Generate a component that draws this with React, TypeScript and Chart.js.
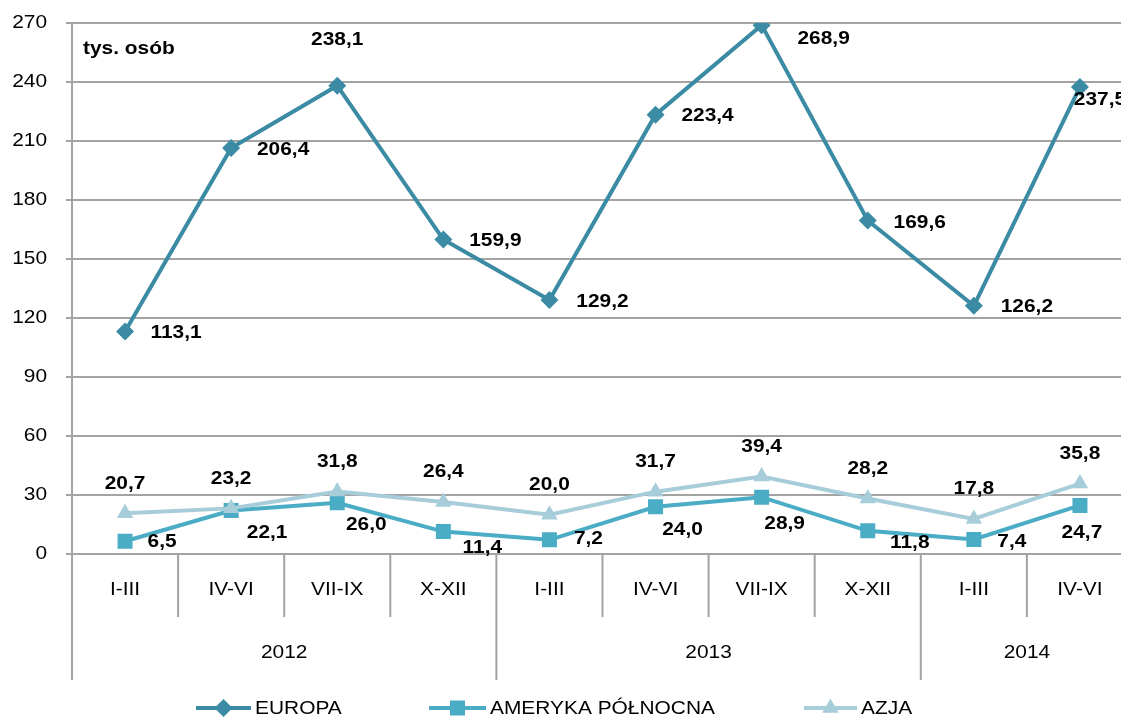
import React, { useEffect, useRef } from "react";
import { Chart, registerables } from "chart.js";

Chart.register(...registerables);

const quarters = ["I-III", "IV-VI", "VII-IX", "X-XII", "I-III", "IV-VI", "VII-IX", "X-XII", "I-III", "IV-VI"];
const yearLabels = ["2012", "2013", "2014"];
const yearSpans = [4, 4, 2];
const yTicks = [0, 30, 60, 90, 120, 150, 180, 210, 240, 270];

const europa = [113.1, 206.4, 238.1, 159.9, 129.2, 223.4, 268.9, 169.6, 126.2, 237.5];
const ameryka = [6.5, 22.1, 26.0, 11.4, 7.2, 24.0, 28.9, 11.8, 7.4, 24.7];
const azja = [20.7, 23.2, 31.8, 26.4, 20.0, 31.7, 39.4, 28.2, 17.8, 35.8];

const seriesNames = ["EUROPA", "AMERYKA PÓŁNOCNA", "AZJA"];
const colors = ["#3A8BA3", "#4BACC6", "#A6CDD9"];

// label offsets (style), relative to point
const europaOff = [[51, 1], [52, 2], [0, -46], [52, 1], [53, 2], [52, 1], [62, 14], [52, 2], [53, 1], [20, 13]];
const amerykaOff = [[37, 1], [36, 22], [29, 22], [39, 16], [39, -1], [27, 23], [23, 27], [42, 12], [38, 2], [2, 27]];
const azjaOff = [[0, -30], [0, -30], [0, -30], [0, -30], [0, -30], [0, -30], [0, -30], [0, -30], [0, -30], [0, -30]];

const SX = 1.1;
const FS = 19;
const FONT = '"Liberation Sans", Arial, sans-serif';
const GRID = "#A3A3A3";
const CW = 1133;

function txt(ctx: CanvasRenderingContext2D, s: string, x: number, y: number, bold: boolean, align: CanvasTextAlign) {
  ctx.save();
  ctx.font = `${bold ? "bold " : ""}${FS}px ${FONT}`;
  ctx.textBaseline = "middle";
  ctx.textAlign = align;
  ctx.fillStyle = "#000";
  ctx.translate(x, y);
  ctx.scale(SX, 1);
  ctx.fillText(s, 0, 0);
  ctx.restore();
}

function marker(ctx: CanvasRenderingContext2D, kind: number, x: number, y: number, color: string) {
  ctx.save();
  ctx.fillStyle = color;
  ctx.beginPath();
  if (kind === 0) {
    const r = 9;
    ctx.moveTo(x - r, y);
    ctx.lineTo(x, y - r);
    ctx.lineTo(x + r, y);
    ctx.lineTo(x, y + r);
  } else if (kind === 1) {
    const h = 7.5;
    ctx.rect(x - h, y - h, 2 * h, 2 * h);
  } else {
    const r = 9.5;
    ctx.moveTo(x, y - r);
    ctx.lineTo(x + r * 0.866, y + r * 0.5);
    ctx.lineTo(x - r * 0.866, y + r * 0.5);
  }
  ctx.closePath();
  ctx.fill();
  ctx.restore();
}

const fmt = (v: number) => v.toFixed(1).replace(".", ",");

const overlay = {
  id: "overlay",
  afterDatasetsDraw(chart: any) {
    const ctx: CanvasRenderingContext2D = chart.ctx;
    const { left, right, bottom } = chart.chartArea;
    const xs = chart.scales.x;
    const ys = chart.scales.y;
    const catW = (right - left) / quarters.length;

    // data labels
    const offs = [europaOff, amerykaOff, azjaOff];
    [europa, ameryka, azja].forEach((arr, si) => {
      arr.forEach((v, i) => {
        const px = xs.getPixelForValue(i);
        const py = ys.getPixelForValue(v);
        txt(ctx, fmt(v), px + offs[si][i][0], py + offs[si][i][1], true, "center");
      });
    });

    // unit label
    txt(ctx, "tys. osób", left + 11, 49, true, "left");

    // y tick labels
    yTicks.forEach((t) => {
      txt(ctx, String(t), left - 25, ys.getPixelForValue(t), false, "right");
    });

    // axis line + separators
    ctx.save();
    ctx.strokeStyle = GRID;
    ctx.lineWidth = 2;
    ctx.beginPath();
    ctx.moveTo(left, chart.chartArea.top);
    ctx.lineTo(left, 680);
    let k = 0;
    const yearBounds = new Set<number>();
    yearSpans.forEach((s) => {
      k += s;
      yearBounds.add(k);
    });
    for (let b = 1; b < quarters.length; b++) {
      const x = left + b * catW;
      ctx.moveTo(x, bottom);
      ctx.lineTo(x, yearBounds.has(b) ? 680 : 617);
    }
    ctx.stroke();
    ctx.restore();

    // quarter labels
    quarters.forEach((q, i) => {
      txt(ctx, q, xs.getPixelForValue(i), 590, false, "center");
    });
    // year labels
    let start = 0;
    yearLabels.forEach((yl, i) => {
      const a = left + start * catW;
      const b = left + (start + yearSpans[i]) * catW;
      txt(ctx, yl, (a + b) / 2, 653, false, "center");
      start += yearSpans[i];
    });

    // legend
    const legendX = [196, 429, 804];
    const legendW = [55, 57, 53];
    seriesNames.forEach((n, i) => {
      const x0 = legendX[i];
      const y0 = 708;
      ctx.save();
      ctx.strokeStyle = colors[i];
      ctx.lineWidth = 4;
      ctx.beginPath();
      ctx.moveTo(x0, y0);
      ctx.lineTo(x0 + legendW[i], y0);
      ctx.stroke();
      ctx.restore();
      marker(ctx, i, x0 + legendW[i] / 2, y0, colors[i]);
      txt(ctx, n, x0 + legendW[i] + 4, y0 + 1, false, "left");
    });
  },
};

export default function App() {
  const ref = useRef<HTMLCanvasElement | null>(null);
  useEffect(() => {
    document.documentElement.style.overflow = "hidden";
    document.body.style.overflow = "hidden";
    const canvas = ref.current!;
    const mk = (data: number[], i: number, style: string, radius: number, order: number) => ({
      label: seriesNames[i],
      data,
      borderColor: colors[i],
      backgroundColor: colors[i],
      pointBackgroundColor: colors[i],
      pointBorderColor: colors[i],
      pointBorderWidth: 0,
      borderWidth: 4,
      pointStyle: style,
      pointRadius: radius,
      tension: 0,
      order,
    });
    const chart = new Chart(canvas, {
      type: "line",
      data: {
        labels: quarters,
        datasets: [
          mk(europa, 0, "rectRot", 9, 0),
          mk(ameryka, 1, "rect", 10.6, 2),
          mk(azja, 2, "triangle", 9.5, 1),
        ],
      },
      options: {
        animation: false,
        responsive: false,
        devicePixelRatio: 1,
        layout: { autoPadding: false, padding: { top: 23, bottom: 163, left: 0, right: 0 } },
        plugins: { legend: { display: false }, tooltip: { enabled: false } },
        scales: {
          x: { display: false, offset: true },
          y: {
            min: 0,
            max: 270,
            ticks: { stepSize: 30, display: false },
            border: { display: false },
            grid: { color: GRID, lineWidth: 2, drawTicks: true, tickLength: 6 },
            afterFit: (s: any) => {
              s.width = 72;
            },
          },
        },
      },
      plugins: [overlay],
    } as any);
    return () => chart.destroy();
  }, []);
  return (
    <div style={{ position: "fixed", left: 0, top: 0, width: CW, height: 717, background: "#fff" }}>
      <canvas ref={ref} width={CW} height={717} style={{ width: CW, height: 717, display: "block" }} />
    </div>
  );
}
